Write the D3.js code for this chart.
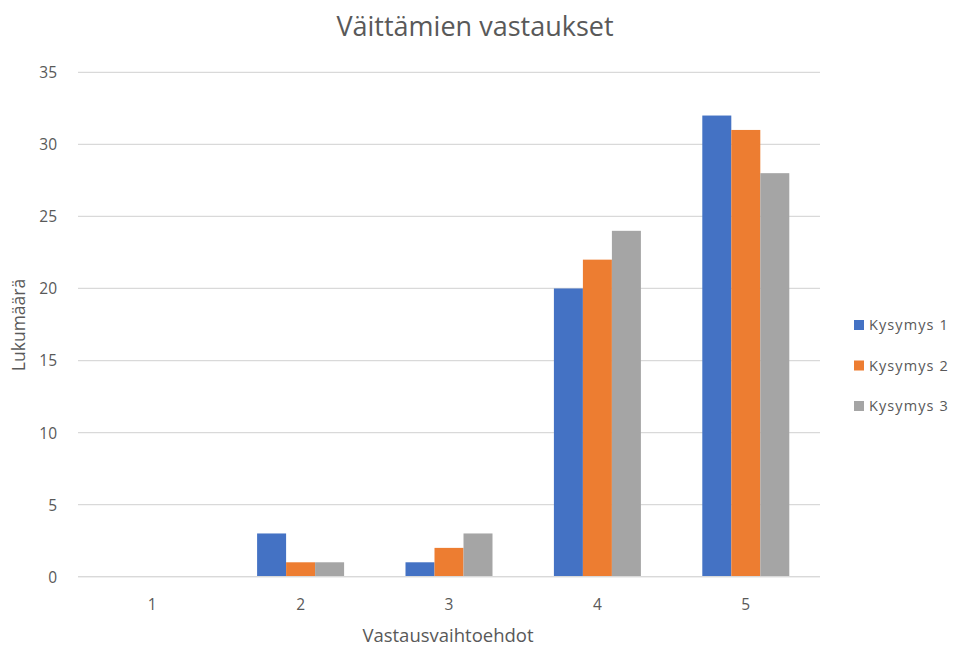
<!DOCTYPE html>
<html><head><meta charset="utf-8">
<script src="https://cdn.jsdelivr.net/npm/d3@7"></script>
<style>body{margin:0;background:#fff}svg{display:block}text{font-family:"Open Sans","Noto Sans",sans-serif;fill:#595959}</style>
</head><body>
<svg id="c" width="957" height="647"></svg>
<script>
const categories = ["1","2","3","4","5"];
const seriesNames = ["Kysymys 1","Kysymys 2","Kysymys 3"];
const kysymys1 = [0,3,1,20,32];
const kysymys2 = [0,1,2,22,31];
const kysymys3 = [0,1,3,24,28];
const seriesValues = [kysymys1,kysymys2,kysymys3];
const colors = ["#4472C4","#ED7D31","#A5A5A5"];
const yTicks = [0,5,10,15,20,25,30,35];
const chartTitle = "Väittämien vastaukset";
const xTitle = "Vastausvaihtoehdot";
const yTitle = "Lukumäärä";

(function(){
const svg = d3.select("#c");
const pLeft = 78, pRight = 820, pTop = 72.3, pBottom = 576.7;
const x = d3.scaleBand().domain(categories).range([pLeft,pRight]);
const y = d3.scaleLinear().domain([0,35]).range([pBottom,pTop]);
const barW = 29;
const xs = d3.scaleBand().domain(seriesNames).range([0,barW*3]);

svg.append("g").selectAll("line").data(yTicks).join("line")
  .attr("x1",pLeft).attr("x2",pRight)
  .attr("y1",d=>y(d)).attr("y2",d=>y(d))
  .attr("stroke","#d9d9d9").attr("stroke-width",1.2);

const yAxis = d3.axisLeft(y).tickValues(yTicks).tickSize(0).tickPadding(0);
const ya = svg.append("g").attr("transform",`translate(57,0)`).call(yAxis);
ya.select(".domain").remove();
ya.selectAll("text").attr("font-size",15.5).attr("fill","#595959").attr("dy","0.35em")
  .style("font-family","'Open Sans',sans-serif");

seriesNames.forEach((s,i)=>{
  svg.append("g").selectAll("rect").data(seriesValues[i]).join("rect")
    .attr("x",(d,j)=>x(categories[j])+x.bandwidth()/2-barW*1.5+xs(s))
    .attr("width",xs.bandwidth())
    .attr("y",d=>y(d)).attr("height",d=>pBottom-y(d))
    .attr("fill",colors[i]);
});

svg.append("line").attr("x1",pLeft).attr("x2",pRight).attr("y1",pBottom).attr("y2",pBottom)
  .attr("stroke","#d9d9d9").attr("stroke-width",1.2);
const xAxis = d3.axisBottom(x).tickSize(0).tickPadding(0);
const xa = svg.append("g").attr("transform",`translate(0,${pBottom+28})`).call(xAxis);
xa.select(".domain").remove();
xa.selectAll("text").attr("font-size",15.5).attr("fill","#595959").attr("dy","0.35em")
  .style("font-family","'Open Sans',sans-serif");

svg.append("text").attr("x",475).attr("y",36).attr("text-anchor","middle")
  .attr("font-size",27).text(chartTitle);
svg.append("text").attr("x",448).attr("y",642).attr("text-anchor","middle")
  .attr("font-size",18.5).text(xTitle);
svg.append("text").attr("transform","translate(25,325) rotate(-90)").attr("text-anchor","middle")
  .attr("font-size",17.5).text(yTitle);

const lg = svg.append("g");
seriesNames.forEach((s,i)=>{
  const ly = 325 + i*40.5;
  lg.append("rect").attr("x",854).attr("y",ly-5).attr("width",10).attr("height",10).attr("fill",colors[i]);
  lg.append("text").attr("x",869).attr("y",ly).attr("dy","0.35em").attr("font-size",14.5)
    .attr("letter-spacing",1.1).text(s);
});
})();
</script>
</body></html>
